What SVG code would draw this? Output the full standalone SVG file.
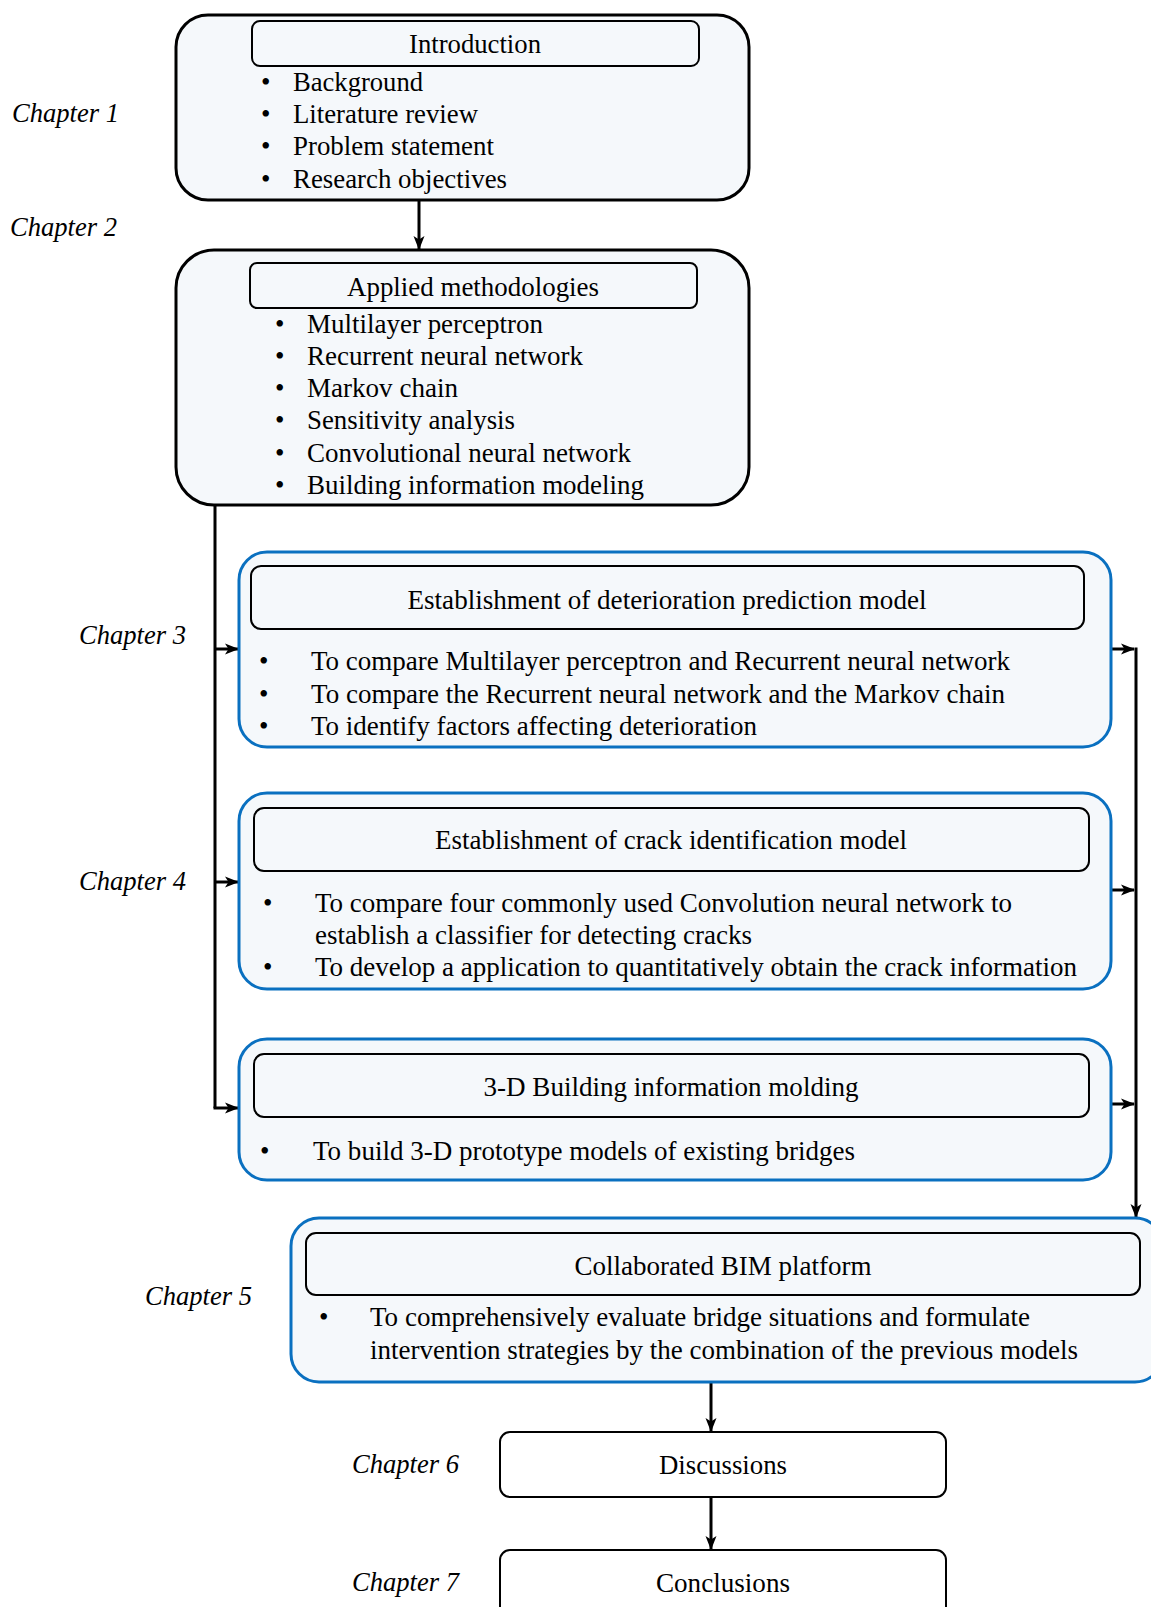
<svg xmlns="http://www.w3.org/2000/svg" width="1151" height="1607" viewBox="0 0 1151 1607">
  <style>
    .t { font-family: 'Liberation Serif', 'Times New Roman', Times, serif; font-size: 27px; fill: #000; }
    .c { text-anchor: middle; }
    .ch { font-family: 'Liberation Serif', 'Times New Roman', Times, serif; font-size: 27px; font-style: italic; fill: #000; }
    .outer { fill: #F5F8FB; stroke: #000; stroke-width: 3; }
    .blue { fill: #F5F8FB; stroke: #0A70C0; stroke-width: 3; }
    .head { fill: #F5F8FB; stroke: #000; stroke-width: 2; }
    .plain { fill: #FFFFFF; stroke: #000; stroke-width: 2; }
    .wire { fill: none; stroke: #000; stroke-width: 3; }
  </style>
  <defs>
    <marker id="arrow" markerUnits="userSpaceOnUse" markerWidth="14" markerHeight="12" refX="13" refY="6" orient="auto">
      <path d="M0,0.5 L14,6 L0,11.5 L3.5,6 z" fill="#000"/>
    </marker>
  </defs>

  <rect width="1151" height="1607" fill="#FFFFFF"/>

  <!-- chapter labels -->
  <g id="chapter-labels">
    <text class="ch" x="12" y="122" textLength="107" lengthAdjust="spacingAndGlyphs">Chapter 1</text>
    <text class="ch" x="10" y="236" textLength="107" lengthAdjust="spacingAndGlyphs">Chapter 2</text>
    <text class="ch" x="79" y="644" textLength="107" lengthAdjust="spacingAndGlyphs">Chapter 3</text>
    <text class="ch" x="79" y="890" textLength="107" lengthAdjust="spacingAndGlyphs">Chapter 4</text>
    <text class="ch" x="145" y="1305" textLength="107" lengthAdjust="spacingAndGlyphs">Chapter 5</text>
    <text class="ch" x="352" y="1473" textLength="107" lengthAdjust="spacingAndGlyphs">Chapter 6</text>
    <text class="ch" x="352" y="1591" textLength="107" lengthAdjust="spacingAndGlyphs">Chapter 7</text>
  </g>

  <!-- connectors -->
  <g id="connectors">
    <path class="wire" d="M419 200 V249" marker-end="url(#arrow)"/>
    <path class="wire" d="M215 505 V1108"/>
    <path class="wire" d="M215 649 H238" marker-end="url(#arrow)"/>
    <path class="wire" d="M215 882 H238" marker-end="url(#arrow)"/>
    <path class="wire" d="M213.5 1108 H238" marker-end="url(#arrow)"/>
    <path class="wire" d="M1111 649 H1134" marker-end="url(#arrow)"/>
    <path class="wire" d="M1111 890 H1134" marker-end="url(#arrow)"/>
    <path class="wire" d="M1111 1104 H1134" marker-end="url(#arrow)"/>
    <path class="wire" d="M1134.5 649 H1136 V1217" marker-end="url(#arrow)"/>
    <path class="wire" d="M711 1382 V1431" marker-end="url(#arrow)"/>
    <path class="wire" d="M711 1497 V1549" marker-end="url(#arrow)"/>
  </g>

  <!-- Chapter 1 -->
  <g id="introduction">
    <rect class="outer" x="176" y="15" width="573" height="185" rx="32"/>
    <rect class="head" x="252" y="21" width="447" height="45" rx="8"/>
    <text class="t c" x="475" y="53" textLength="132" lengthAdjust="spacingAndGlyphs">Introduction</text>
    <text class="t" x="261" y="91">•</text>
    <text class="t" x="293" y="91" textLength="130" lengthAdjust="spacingAndGlyphs">Background</text>
    <text class="t" x="261" y="123">•</text>
    <text class="t" x="293" y="123" textLength="185" lengthAdjust="spacingAndGlyphs">Literature review</text>
    <text class="t" x="261" y="155">•</text>
    <text class="t" x="293" y="155" textLength="201" lengthAdjust="spacingAndGlyphs">Problem statement</text>
    <text class="t" x="261" y="188">•</text>
    <text class="t" x="293" y="188" textLength="214" lengthAdjust="spacingAndGlyphs">Research objectives</text>
  </g>

  <!-- Chapter 2 -->
  <g id="methodologies">
    <rect class="outer" x="176" y="250" width="573" height="255" rx="38"/>
    <rect class="head" x="250" y="263" width="447" height="45" rx="7"/>
    <text class="t c" x="473" y="296" textLength="252" lengthAdjust="spacingAndGlyphs">Applied methodologies</text>
    <text class="t" x="275" y="333">•</text>
    <text class="t" x="307" y="333" textLength="236" lengthAdjust="spacingAndGlyphs">Multilayer perceptron</text>
    <text class="t" x="275" y="365">•</text>
    <text class="t" x="307" y="365" textLength="276" lengthAdjust="spacingAndGlyphs">Recurrent neural network</text>
    <text class="t" x="275" y="397">•</text>
    <text class="t" x="307" y="397" textLength="151" lengthAdjust="spacingAndGlyphs">Markov chain</text>
    <text class="t" x="275" y="429">•</text>
    <text class="t" x="307" y="429" textLength="208" lengthAdjust="spacingAndGlyphs">Sensitivity analysis</text>
    <text class="t" x="275" y="462">•</text>
    <text class="t" x="307" y="462" textLength="324" lengthAdjust="spacingAndGlyphs">Convolutional neural network</text>
    <text class="t" x="275" y="494">•</text>
    <text class="t" x="307" y="494" textLength="337" lengthAdjust="spacingAndGlyphs">Building information modeling</text>
  </g>

  <!-- Chapter 3 -->
  <g id="deterioration-model">
    <rect class="blue" x="239" y="552" width="872" height="195" rx="28"/>
    <rect class="head" x="251" y="566" width="833" height="63" rx="10"/>
    <text class="t c" x="667" y="609" textLength="519" lengthAdjust="spacingAndGlyphs">Establishment of deterioration prediction model</text>
    <text class="t" x="259" y="670">•</text>
    <text class="t" x="311" y="670" textLength="699" lengthAdjust="spacingAndGlyphs">To compare Multilayer perceptron and Recurrent neural network</text>
    <text class="t" x="259" y="703">•</text>
    <text class="t" x="311" y="703" textLength="694" lengthAdjust="spacingAndGlyphs">To compare the Recurrent neural network and the Markov chain</text>
    <text class="t" x="259" y="735">•</text>
    <text class="t" x="311" y="735" textLength="446" lengthAdjust="spacingAndGlyphs">To identify factors affecting deterioration</text>
  </g>

  <!-- Chapter 4 -->
  <g id="crack-model">
    <rect class="blue" x="239" y="793" width="872" height="196" rx="28"/>
    <rect class="head" x="254" y="808" width="835" height="63" rx="10"/>
    <text class="t c" x="671" y="849" textLength="472" lengthAdjust="spacingAndGlyphs">Establishment of crack identification model</text>
    <text class="t" x="263" y="912">•</text>
    <text class="t" x="315" y="912" textLength="697" lengthAdjust="spacingAndGlyphs">To compare four commonly used Convolution neural network to</text>
    <text class="t" x="315" y="944" textLength="437" lengthAdjust="spacingAndGlyphs">establish a classifier for detecting cracks</text>
    <text class="t" x="263" y="976">•</text>
    <text class="t" x="315" y="976" textLength="762" lengthAdjust="spacingAndGlyphs">To develop a application to quantitatively obtain the crack information</text>
  </g>

  <!-- Chapter 4 (BIM models) -->
  <g id="bim-modeling">
    <rect class="blue" x="239" y="1039" width="872" height="141" rx="28"/>
    <rect class="head" x="254" y="1054" width="835" height="63" rx="10"/>
    <text class="t c" x="671" y="1096" textLength="375" lengthAdjust="spacingAndGlyphs">3-D Building information molding</text>
    <text class="t" x="260" y="1160">•</text>
    <text class="t" x="313" y="1160" textLength="542" lengthAdjust="spacingAndGlyphs">To build 3-D prototype models of existing bridges</text>
  </g>

  <!-- Chapter 5 -->
  <g id="bim-platform">
    <rect class="blue" x="291" y="1218" width="872" height="164" rx="28"/>
    <rect class="head" x="306" y="1233" width="834" height="62" rx="10"/>
    <text class="t c" x="723" y="1275" textLength="297" lengthAdjust="spacingAndGlyphs">Collaborated BIM platform</text>
    <text class="t" x="319" y="1326">•</text>
    <text class="t" x="370" y="1326" textLength="660" lengthAdjust="spacingAndGlyphs">To comprehensively evaluate bridge situations and formulate</text>
    <text class="t" x="370" y="1359" textLength="708" lengthAdjust="spacingAndGlyphs">intervention strategies by the combination of the previous models</text>
  </g>

  <!-- Chapter 6 -->
  <g id="discussions">
    <rect class="plain" x="500" y="1432" width="446" height="65" rx="10"/>
    <text class="t c" x="723" y="1474" textLength="128" lengthAdjust="spacingAndGlyphs">Discussions</text>
  </g>

  <!-- Chapter 7 -->
  <g id="conclusions">
    <rect class="plain" x="500" y="1550" width="446" height="70" rx="10"/>
    <text class="t c" x="723" y="1592" textLength="134" lengthAdjust="spacingAndGlyphs">Conclusions</text>
  </g>
</svg>
